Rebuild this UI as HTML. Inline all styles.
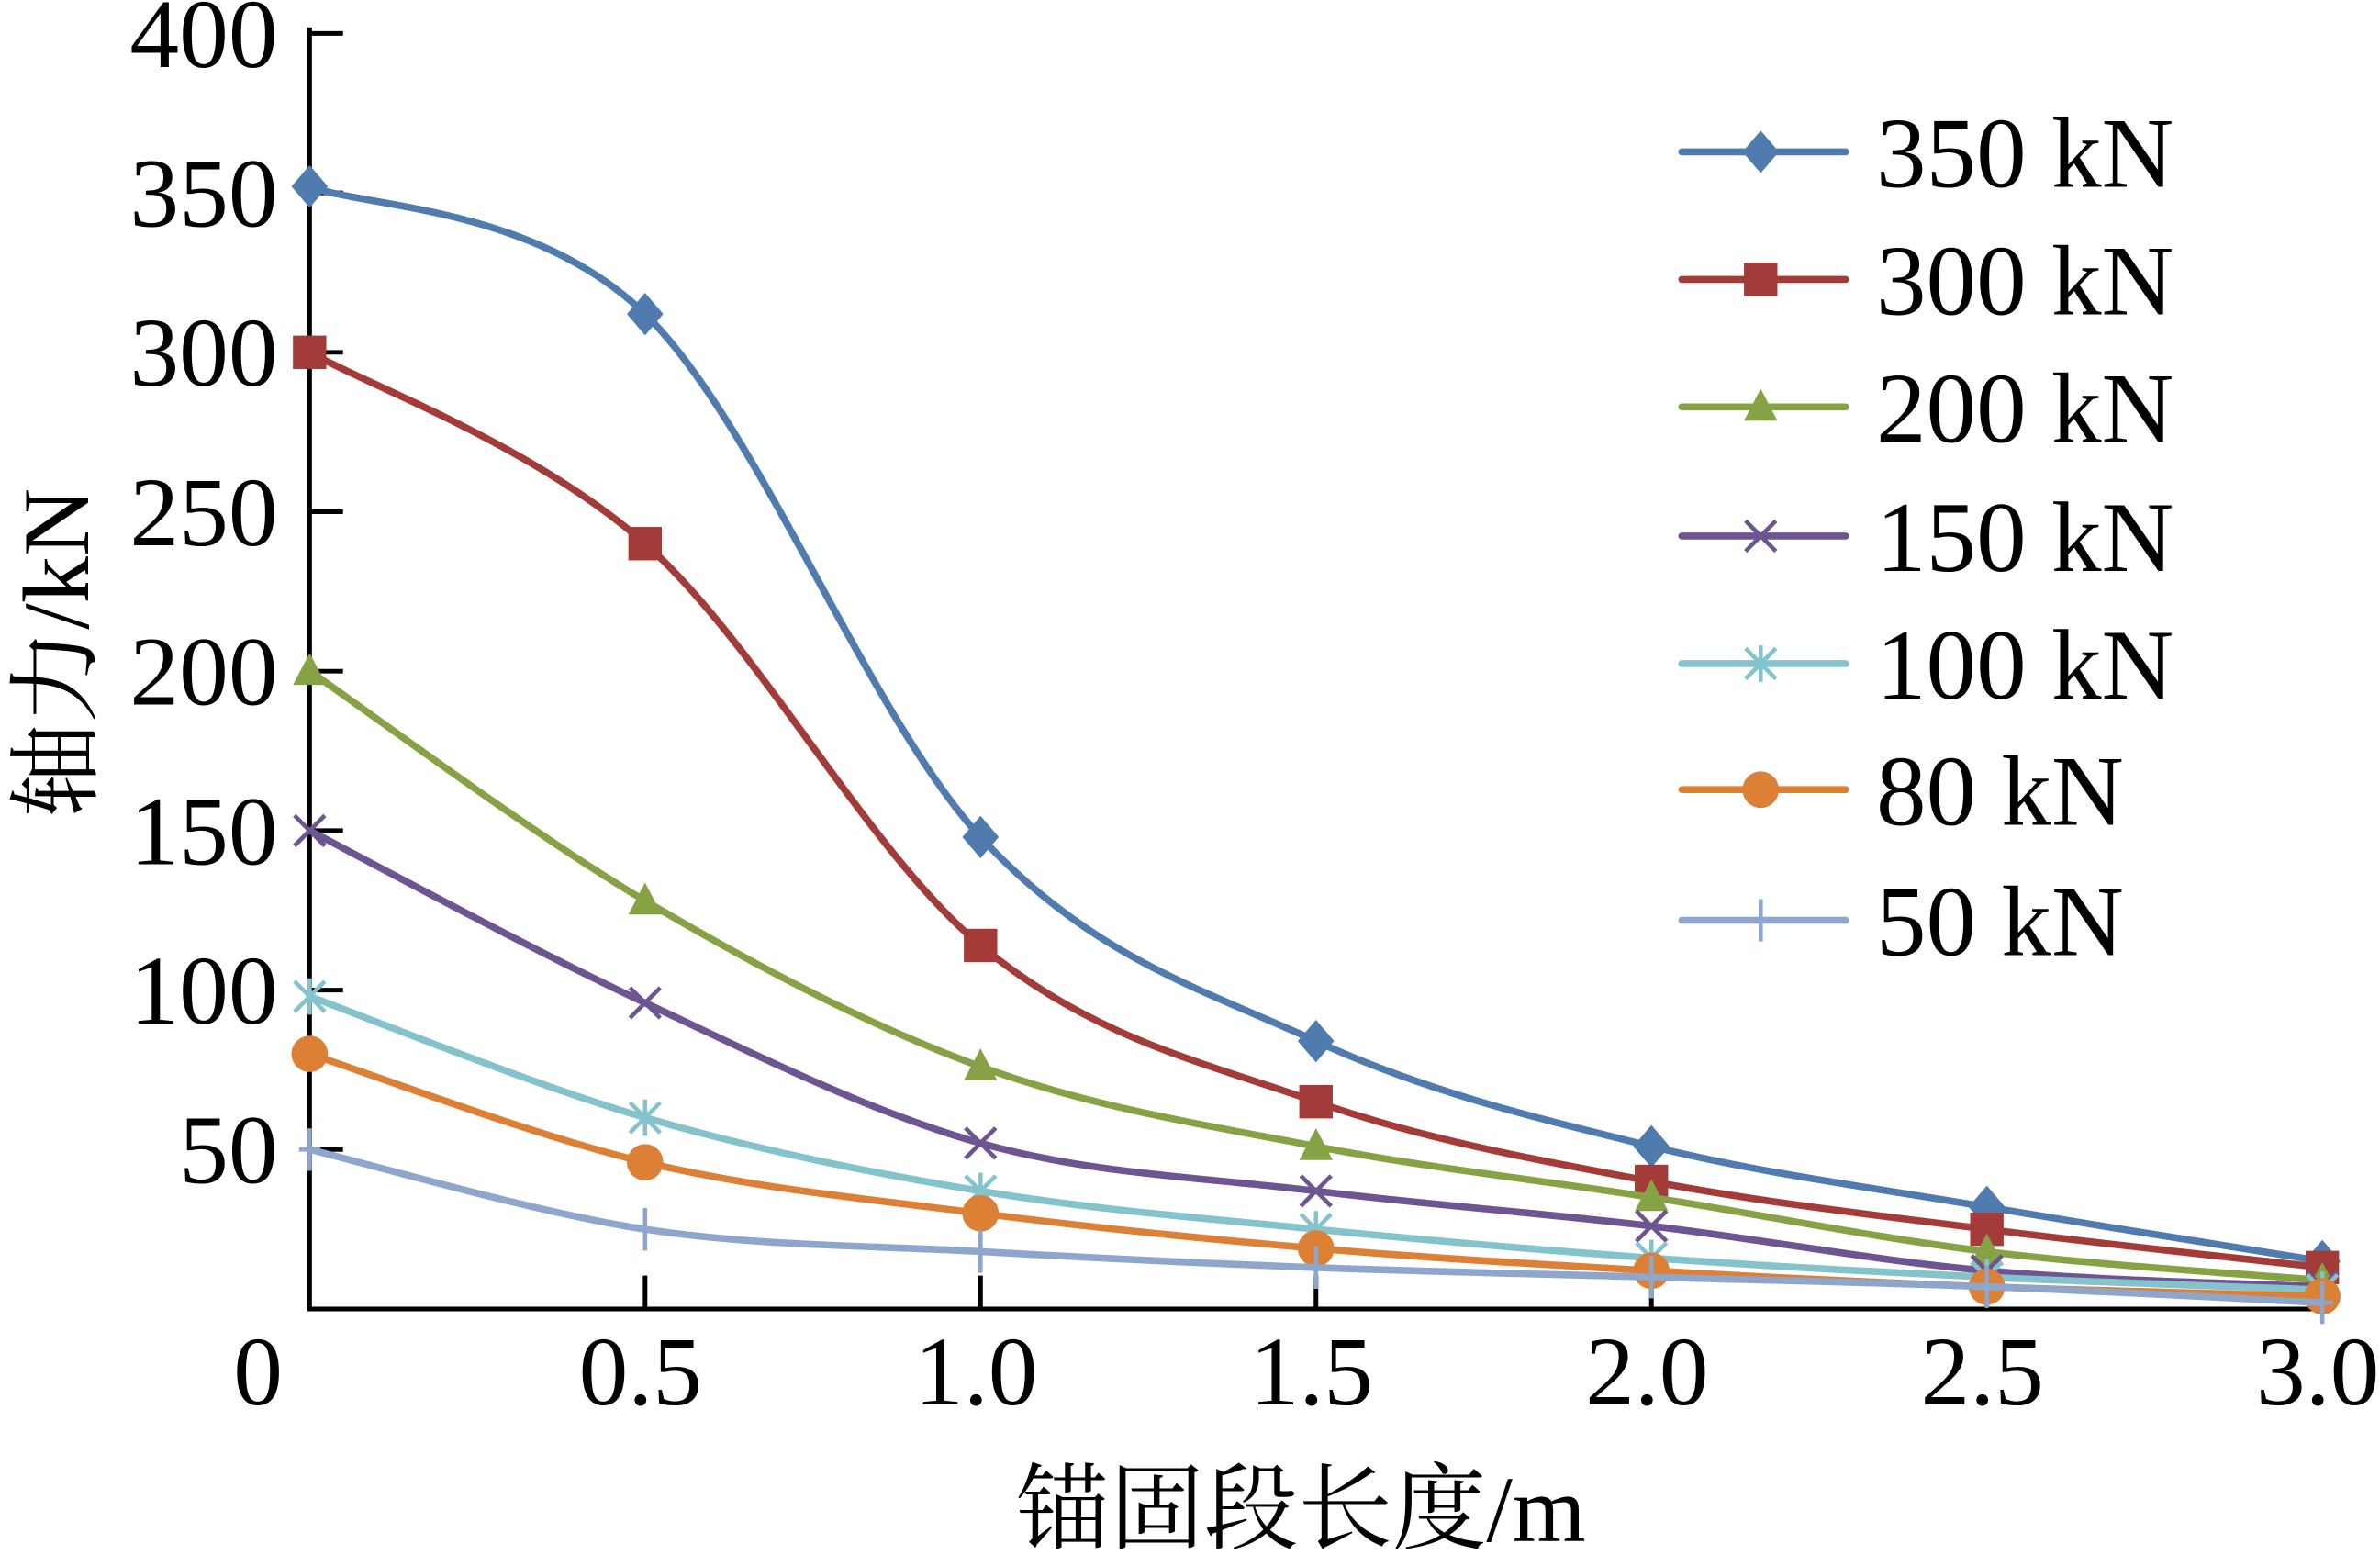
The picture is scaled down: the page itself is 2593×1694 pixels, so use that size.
<!DOCTYPE html>
<html><head><meta charset="utf-8"><style>
html,body{margin:0;padding:0;background:#fff;}
svg{display:block;}
text{font-family:"Liberation Serif","Noto Serif CJK SC",serif;fill:#000;}
</style></head><body>
<svg id="chart" width="2593" height="1694" viewBox="0 0 1568 1024" preserveAspectRatio="none" xmlns="http://www.w3.org/2000/svg">
<g id="axes"></g>
<g id="series"></g>
<g id="legend"></g>
<text x="857" y="1015" font-size="62" text-anchor="middle">锚固段长度/m</text>
<text transform="translate(58,430) rotate(-90)" font-size="62" text-anchor="middle">轴力/kN</text>
</svg>
<script>
const xValues=[0,0.5,1.0,1.5,2.0,2.5,3.0];
const xTickLabels=["0","0.5","1.0","1.5","2.0","2.5","3.0"];
const yTickValues=[50,100,150,200,250,300,350,400];
const seriesNames=["350 kN","300 kN","200 kN","150 kN","100 kN","80 kN","50 kN"];
const s350=[352,312,148,84,51,32,15];
const s300=[300,240,114,65,40,25,13];
const s200=[200,128,76,51,35,18,9];
const s150=[150,96,52,37,26,12,7];
const s100=[98,60,37,25,16,10,6];
const s80=[80,46,30,19,12,7,4];
const s50=[50,25,18,13,10,7,2];
const seriesData=[s350,s300,s200,s150,s100,s80,s50];
const colors=["#4f7bae","#a33b38","#86a244","#6c5590","#84c3cc","#db8035","#8ea6cc"];
const markers=["diamond","square","triangle","x","star","circle","plus"];
const NS="http://www.w3.org/2000/svg";
const X0=204,X1=1530,Y0=862,Y1=22;
function sx(v){return X0+(v-0)/(3-0)*(X1-X0);}
function sy(v){return Y0-(v/400)*(Y0-Y1);}
function mk(tag,attrs,parent){const e=document.createElementNS(NS,tag);for(const k in attrs)e.setAttribute(k,attrs[k]);parent.appendChild(e);return e;}
const axes=document.getElementById('axes');
let l=mk('line',{x1:X0,y1:Y1-4,x2:X0,y2:Y0,stroke:'#000','stroke-width':3},axes);


l=mk('line',{x1:X0-1.5,y1:Y0,x2:X1,y2:Y0,stroke:'#000','stroke-width':3},axes);


yTickValues.forEach(v=>{
 const t=mk('line',{x1:X0,x2:X0+22,y1:sy(v),y2:sy(v),stroke:'#000','stroke-width':3},axes);
 
 
 const tx=mk('text',{x:183,y:sy(v)+22,'font-size':65,'text-anchor':'end'},axes);
 tx.textContent=String(v);
 
 
});
xValues.forEach((v,i)=>{
 if(i>0){const t=mk('line',{x1:sx(v),x2:sx(v),y1:Y0,y2:Y0-22,stroke:'#000','stroke-width':3},axes);
 
 }
 const lx=i===0?170:sx(v)-3;
 const tx=mk('text',{x:lx,y:925,'font-size':65,'text-anchor':'middle'},axes);
 tx.textContent=xTickLabels[i];
 
 
});
function drawMarker(type,x,y,c,g){
 let e;const r=12;
 if(type==='diamond')e=mk('polygon',{points:`${x},${y-r-2} ${x+r},${y} ${x},${y+r+2} ${x-r},${y}`,fill:c},g);
 else if(type==='square')e=mk('rect',{x:x-11,y:y-11,width:22,height:22,fill:c},g);
 else if(type==='triangle')e=mk('polygon',{points:`${x},${y-12} ${x+11},${y+9} ${x-11},${y+9}`,fill:c},g);
 else if(type==='circle')e=mk('circle',{cx:x,cy:y,r:12,fill:c},g);
 else if(type==='x')e=mk('path',{d:`M${x-10},${y-10}L${x+10},${y+10}M${x-10},${y+10}L${x+10},${y-10}`,stroke:c,'stroke-width':2.8,fill:'none'},g);
 else if(type==='star')e=mk('path',{d:`M${x-10},${y-10}L${x+10},${y+10}M${x-10},${y+10}L${x+10},${y-10}M${x},${y-12}L${x},${y+12}`,stroke:c,'stroke-width':2.8,fill:'none'},g);
 else e=mk('path',{d:`M${x},${y-14}L${x},${y+14}M${x-7},${y}L${x+7},${y}`,stroke:c,'stroke-width':2.8,fill:'none'},g);
 return e;
}
function smoothPath(pts){
 let d=`M${pts[0][0]},${pts[0][1]}`;
 for(let i=0;i<pts.length-1;i++){
  const p0=pts[i-1]||pts[i],p1=pts[i],p2=pts[i+1],p3=pts[i+2]||p2;
  const c1=[p1[0]+(p2[0]-p0[0])/6,p1[1]+(p2[1]-p0[1])/6];
  const c2=[p2[0]-(p3[0]-p1[0])/6,p2[1]-(p3[1]-p1[1])/6];
  d+=`C${c1[0]},${c1[1]} ${c2[0]},${c2[1]} ${p2[0]},${p2[1]}`;
 }
 return d;
}
const sg=document.getElementById('series');
const lg=document.getElementById('legend');
const legY=[100,184,268,353,437,520,606];
seriesData.forEach((vals,k)=>{
 const g=mk('g',{},sg);
 
 
 const pts=vals.map((v,i)=>[sx(xValues[i]),sy(v)]);
 const p=mk('path',{d:smoothPath(pts),fill:'none',stroke:colors[k],'stroke-width':4.6,'stroke-linecap':'round'},g);
 
 
 pts.forEach(pt=>{const m=drawMarker(markers[k],pt[0],pt[1],colors[k],g);
  
  });
 const le=mk('g',{},lg);
 
 
 const y=legY[k];
 mk('line',{x1:1108,x2:1216,y1:y,y2:y,stroke:colors[k],'stroke-width':4.6,'stroke-linecap':'round'},le);
 drawMarker(markers[k],1160,y,colors[k],le);
 const t=mk('text',{x:1236,y:y+23,'font-size':66},le);
 t.textContent=seriesNames[k];
});
</script>
</body></html>
